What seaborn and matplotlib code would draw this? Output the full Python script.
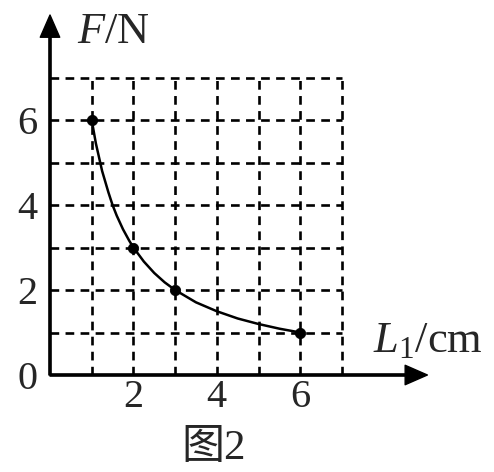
import matplotlib
matplotlib.use('Agg')
import matplotlib.pyplot as plt
import seaborn as sns

# measured points (L1 in cm, F in N)
L_points = [1, 2, 3, 6]
F_points = [6, 3, 2, 1]

# smooth curve
curve_L = [1, 1.1, 1.25, 1.4, 1.5, 1.6, 1.75, 1.9, 2, 2.25, 2.5, 2.75, 3,
           3.5, 4, 4.5, 5, 5.5, 6]
curve_F = [6, 5.45, 4.8, 4.3, 4, 3.75, 3.43, 3.16, 3, 2.67, 2.4, 2.18, 2,
           1.71, 1.5, 1.33, 1.2, 1.09, 1]

grid_vals = [1, 2, 3, 4, 5, 6, 7]
x_ticks = [2, 4, 6]
y_ticks = [0, 2, 4, 6]

sns.set_style('white')
plt.rcParams['font.family'] = ['Liberation Serif', 'Noto Sans CJK SC']
plt.rcParams['mathtext.fontset'] = 'custom'
plt.rcParams['mathtext.rm'] = 'Liberation Serif'
plt.rcParams['mathtext.it'] = 'Liberation Serif:italic'

W, H = 494, 472
fig = plt.figure(figsize=(W / 100, H / 100), dpi=100)
x0, y0 = 50, 375          # pixel position of the origin
ux, uy = 41.7, 42.5       # pixels per unit
right, top = 430, 12
ax = fig.add_axes([x0 / W, (H - y0) / H, (right - x0) / W, (y0 - top) / H])
ax.set_xlim(0, (right - x0) / ux)
ax.set_ylim(0, (y0 - top) / uy)
ax.set_facecolor('none')
for s in ax.spines.values():
    s.set_visible(False)

# dashed grid
dash = (0, (3.3, 2.4))
ax.vlines(grid_vals, 0, 7, colors='black', linewidth=1.9, linestyles=dash, zorder=1)
ax.hlines(grid_vals, 0, 7, colors='black', linewidth=1.9, linestyles=dash, zorder=1)

# axes with arrows
arrow = dict(facecolor='black', edgecolor='black', width=1.6,
             headwidth=14, headlength=16, shrink=0)
ax.annotate('', xy=(9.05, 0), xytext=(0, 0), arrowprops=arrow, annotation_clip=False)
ax.annotate('', xy=(0, 8.47), xytext=(0, 0), arrowprops=arrow, annotation_clip=False)

sns.lineplot(x=curve_L, y=curve_F, color='black', linewidth=1.8, sort=False, ax=ax, zorder=3)
sns.scatterplot(x=L_points, y=F_points, color='black', s=55, edgecolor='black', ax=ax, zorder=4)

ax.set_xticks(x_ticks)
ax.set_yticks(y_ticks)
ax.tick_params(axis='both', length=0, labelsize=29)
ax.tick_params(axis='x', pad=3)
ax.tick_params(axis='y', pad=9)
ax.set_xlabel('')
ax.set_ylabel('')

ax.text(0.65, 7.81, r'$F$/N', fontsize=32, ha='left', va='baseline')
ax.text(7.75, 0.54, r'$L_{\rm 1}$/cm', fontsize=32, ha='left', va='baseline')

fig.text(214 / W, 1 - 430 / H, '图2', fontsize=31, ha='center', va='top')

fig.savefig('out.png', dpi=100)
